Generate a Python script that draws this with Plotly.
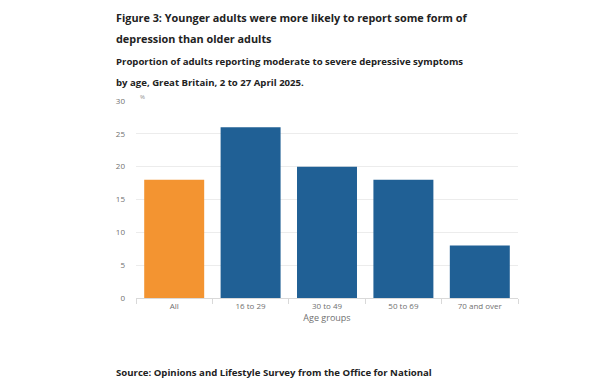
import plotly.graph_objects as go

categories = ["All", "16 to 29", "30 to 49", "50 to 69", "70 and over"]
values = [18, 26, 20, 18, 8]
bar_colors = ["#F39431", "#206095", "#206095", "#206095", "#206095"]
y_ticks = [0, 5, 10, 15, 20, 25, 30]

W, H = 615, 385
L, R, T, B = 136, 97, 101, 87
pw, ph = W - L - R, H - T - B

def px(x):
    return (x - L) / pw

def py(y):
    return (H - B - y) / ph

fig = go.Figure(go.Bar(
    x=categories, y=values, marker=dict(color=bar_colors, line=dict(width=0)),
    hoverinfo="x+y",
))

font = "Open Sans"
fig.update_layout(
    width=W, height=H,
    margin=dict(l=L, r=R, t=T, b=B),
    paper_bgcolor="white", plot_bgcolor="white",
    showlegend=False,
    bargap=0.215,
    font=dict(family=font, color="#707070", size=8),
    xaxis=dict(
        type="category", showgrid=False, showline=True, linecolor="#d9d9d9", linewidth=1,
        ticks="outside", tickson="boundaries", ticklen=5, tickcolor="#d9d9d9",
        tickfont=dict(size=8, color="#707070"),
        title=dict(text="Age groups", font=dict(size=9, color="#707070"), standoff=4),
    ),
    yaxis=dict(
        range=[0, 30], tickvals=y_ticks, showgrid=True, gridcolor="#ececec", gridwidth=1,
        zeroline=False, showline=False, ticks="", ticklabelstandoff=10,
        tickfont=dict(size=8, color="#707070"),
    ),
)

anns = [
    dict(text="<b>Figure 3: Younger adults were more likely to report some form of</b>", x=114, y=18, size=10.85, color="#222222"),
    dict(text="<b>depression than older adults</b>", x=114, y=38, size=10.85, color="#222222"),
    dict(text="<b>Proportion of adults reporting moderate to severe depressive symptoms</b>", x=114, y=62, size=9.6, color="#222222"),
    dict(text="<b>by age, Great Britain, 2 to 27 April 2025.</b>", x=114, y=82, size=9.6, color="#222222"),
    dict(text="<b>Source: Opinions and Lifestyle Survey from the Office for National</b>", x=114, y=372, size=9.6, color="#222222"),
    dict(text="%", x=138, y=97, size=6, color="#909090"),
]
for a in anns:
    fig.add_annotation(
        text=a["text"], xref="paper", yref="paper", x=px(a["x"]), y=py(a["y"]),
        xanchor="left", yanchor="middle", showarrow=False,
        font=dict(family=font, size=a["size"], color=a["color"]),
    )

fig.write_html(
    "out.html",
    config={"displayModeBar": False},
    post_script="document.body.style.margin='0px';document.body.style.overflow='hidden';",
)
